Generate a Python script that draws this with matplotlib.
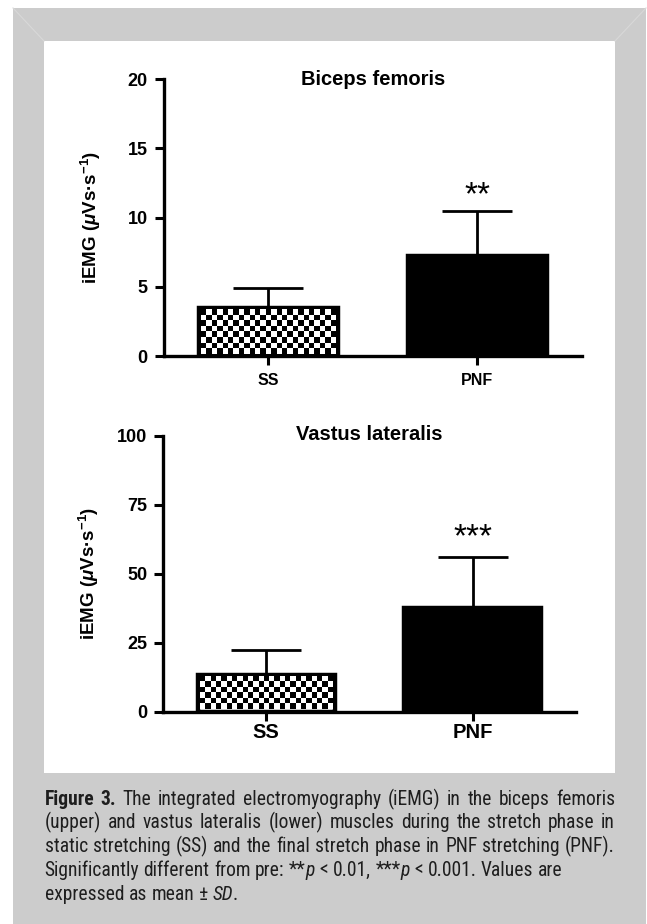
import numpy as np
import matplotlib
matplotlib.use("Agg")
import matplotlib.pyplot as plt
from matplotlib.patches import Rectangle
from matplotlib.lines import Line2D

plt.rcParams['font.family'] = ['Liberation Sans', 'DejaVu Sans']
plt.rcParams['mathtext.fontset'] = 'custom'
plt.rcParams['mathtext.rm'] = 'Liberation Sans:bold'
plt.rcParams['mathtext.it'] = 'Liberation Sans:italic:bold'
plt.rcParams['mathtext.bf'] = 'Liberation Sans:bold'

# data
groups = ['SS', 'PNF']
bf_mean = [3.5, 7.25]
bf_sd = [1.45, 3.25]
bf_sig = ['', '**']
bf_ticks = [0, 5, 10, 15, 20]
vl_mean = [13.4, 37.6]
vl_sd = [8.9, 18.4]
vl_sig = ['', '***']
vl_ticks = [0, 25, 50, 75, 100]

W, H = 647, 924
fig = plt.figure(figsize=(W / 100, H / 100), dpi=100)
fig.patch.set_facecolor('white')


def px_rect(left, top, width, height):
    return [left / W, 1 - (top + height) / H, width / W, height / H]


# gray frame + white panel
fig.add_artist(Rectangle((13 / W, 0), 633 / W, 1 - 8 / H, transform=fig.transFigure,
                         facecolor='#cccccc', edgecolor='none', zorder=-10))
fig.add_artist(Rectangle((44 / W, 1 - 773 / H), 571 / W, 732 / H, transform=fig.transFigure,
                         facecolor='white', edgecolor='none', zorder=-9))
for (xa, ya), (xb, yb) in [((13, 8), (44, 41)), ((646, 8), (615, 41))]:
    fig.add_artist(Line2D([xa / W, xb / W], [1 - ya / H, 1 - yb / H], transform=fig.transFigure,
                          color='#d8d8d8', lw=0.8, zorder=-8))

BAR_LW = 3.2


def draw_panel(ax, means, sds, sig, yticks, title, title_y, xt_size, xt_pad, star_off, ylab_x):
    x = np.arange(len(groups))
    ax.set_facecolor('none')
    bars = ax.bar(x, means, width=0.665, color=['white', 'black'], edgecolor='black',
                  linewidth=BAR_LW, zorder=2)
    ax.errorbar(x, means, yerr=[np.zeros(len(x)), sds], fmt='none', ecolor='black',
                elinewidth=2, capsize=25.5, capthick=2, zorder=1)
    ax.set_xlim(-0.5, 1.5)
    ax.set_ylim(yticks[0], yticks[-1])

    # checkerboard fill of the SS bar
    b = bars[0]
    p0 = ax.transData.transform((b.get_x(), 0))
    p1 = ax.transData.transform((b.get_x() + b.get_width(), b.get_height()))
    inset = BAR_LW * 100 / 72 / 2
    q0 = p0 + inset
    q1 = p1 - inset
    nx = int(round((q1[0] - q0[0]) / 5.4))
    ny = max(1, int(round((q1[1] - q0[1]) / 5.4)))
    checker = np.indices((ny, nx)).sum(axis=0) % 2
    d0 = ax.transData.inverted().transform(q0)
    d1 = ax.transData.inverted().transform(q1)
    ax.imshow(checker, cmap='gray', vmin=0, vmax=1, interpolation='nearest', aspect='auto',
              extent=(d0[0], d1[0], d0[1], d1[1]), zorder=2.5)
    ax.set_xlim(-0.5, 1.5)
    ax.set_ylim(yticks[0], yticks[-1])

    for xi, m, s, star in zip(x, means, sds, sig):
        if star:
            ax.annotate(star, (xi, m + s), xytext=(0, star_off), textcoords='offset points',
                        ha='center', va='baseline', fontsize=24)

    ax.spines['top'].set_visible(False)
    ax.spines['right'].set_visible(False)
    for sp in ['left', 'bottom']:
        ax.spines[sp].set_linewidth(2.4)
        ax.spines[sp].set_capstyle('projecting')
    ax.set_yticks(yticks)
    ax.set_xticks(x)
    ax.set_xticklabels(groups)
    ax.tick_params(axis='both', direction='out', length=6.5, width=2.2)
    ax.tick_params(axis='y', labelsize=13, pad=5)
    ax.tick_params(axis='x', labelsize=xt_size, pad=xt_pad)
    for lab in ax.get_xticklabels() + ax.get_yticklabels():
        lab.set_fontweight('bold')
    ax.text(0.5, title_y, title, transform=ax.transAxes, ha='center', va='baseline',
            fontsize=14.5, fontweight='bold')
    ax.set_ylabel(r'iEMG ($\mu$Vs·s$^{-1}$)', fontsize=13.5, fontweight='bold')
    ax.yaxis.set_label_coords(ylab_x, 0.5)


ax1 = fig.add_axes(px_rect(163.8, 79, 418, 277.3))
draw_panel(ax1, bf_mean, bf_sd, bf_sig, bf_ticks, 'Biceps femoris', 0.978, 11.5, 5.5, 4.5, -0.146)
ax2 = fig.add_axes(px_rect(163.05, 435.7, 412.6, 275.8))
draw_panel(ax2, vl_mean, vl_sd, vl_sig, vl_ticks, 'Vastus lateralis', 0.984, 14.5, 2, 7.5, -0.151)

# caption
cap_family = ['Liberation Sans Narrow', 'Roboto Condensed', 'Archivo Narrow',
              'Liberation Sans', 'DejaVu Sans']
B, N, I = 'bold', 'normal', 'italic'
caption = [
    ([('Figure 3.', B, N), (' The integrated electromyography (iEMG) in the biceps femoris', N, N)], True),
    ([('(upper) and vastus lateralis (lower) muscles during the stretch phase in', N, N)], True),
    ([('static stretching (SS) and the final stretch phase in PNF stretching (PNF).', N, N)], True),
    ([('Significantly different from pre: **', N, N), ('p', N, I), (' < 0.01, ***', N, N),
      ('p', N, I), (' < 0.001. Values are', N, N)], False),
    ([('expressed as mean ± ', N, N), ('SD', N, I), ('.', N, N)], False),
]
baselines = [805, 828.5, 852, 876, 899.5]
cap_left, cap_width = 44.5, 570.5

renderer = fig.canvas.get_renderer()


def split_words(runs):
    words = [[]]
    for text, wt, st in runs:
        parts = text.split(' ')
        for i, part in enumerate(parts):
            if i > 0:
                words.append([])
            if part:
                words[-1].append((part, wt, st))
    return [w for w in words if w]


def make_line(runs, size):
    items = []
    for word in split_words(runs):
        wl = []
        for part, wt, st in word:
            t = fig.text(0, 0, part, fontsize=size, fontweight=wt, fontstyle=st,
                         family=cap_family, color='#1e1e1e', va='baseline', ha='left')
            wl.append((t, t.get_window_extent(renderer).width))
        items.append(wl)
    return items


def space_width(size):
    a = fig.text(0, 0, 'a a', fontsize=size, family=cap_family)
    b = fig.text(0, 0, 'aa', fontsize=size, family=cap_family)
    w = a.get_window_extent(renderer).width - b.get_window_extent(renderer).width
    a.remove()
    b.remove()
    return w


def natural_width(runs, size):
    items = make_line(runs, size)
    w = sum(ww for wl in items for _, ww in wl) + space_width(size) * (len(items) - 1)
    for wl in items:
        for t, _ in wl:
            t.remove()
    return w


# size from the ragged line 4, but never so large that a justified line overflows
cap_size = 12 * 549.5 / natural_width(caption[3][0], 12)
widest = max(natural_width(r, cap_size) for r, j in caption if j)
if widest > cap_width - 6:
    cap_size *= (cap_width - 6) / widest
sp = space_width(cap_size)

for (runs, justify), yb in zip(caption, baselines):
    items = make_line(runs, cap_size)
    widths = [sum(w for _, w in wl) for wl in items]
    gap = (cap_width - sum(widths)) / (len(items) - 1) if justify else sp
    xp = cap_left
    for wl, ww in zip(items, widths):
        xx = xp
        for t, w in wl:
            t.set_position((xx / W, 1 - yb / H))
            xx += w
        xp += ww + gap

fig.savefig('out.png', dpi=100)
